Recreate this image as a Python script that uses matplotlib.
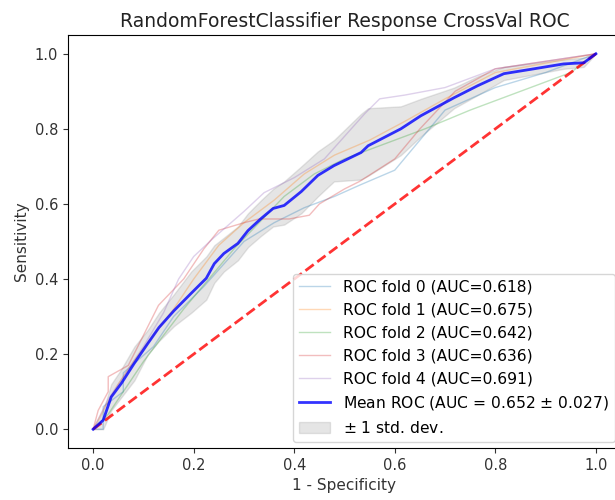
import numpy as np
import matplotlib
matplotlib.use("Agg")
import matplotlib.pyplot as plt

# fold curves (fpr, tpr)
fold0_fpr = [0, 0.02, 0.02, 0.06, 0.06, 0.12, 0.16, 0.22, 0.26, 0.30, 0.36, 0.42, 0.48, 0.53, 0.60, 0.65, 0.70, 0.80, 0.90, 1.0]
fold0_tpr = [0, 0.0, 0.06, 0.10, 0.15, 0.22, 0.30, 0.38, 0.44, 0.50, 0.55, 0.59, 0.62, 0.65, 0.69, 0.77, 0.85, 0.91, 0.95, 1.0]
fold1_fpr = [0, 0.02, 0.05, 0.08, 0.12, 0.16, 0.20, 0.25, 0.30, 0.36, 0.42, 0.48, 0.55, 0.62, 0.70, 0.80, 0.88, 1.0]
fold1_tpr = [0, 0.05, 0.12, 0.18, 0.25, 0.32, 0.40, 0.49, 0.55, 0.61, 0.68, 0.73, 0.77, 0.82, 0.88, 0.95, 0.97, 1.0]
fold2_fpr = [0, 0.03, 0.06, 0.10, 0.14, 0.18, 0.23, 0.28, 0.33, 0.38, 0.44, 0.50, 0.58, 0.66, 0.75, 0.85, 0.95, 1.0]
fold2_tpr = [0, 0.04, 0.10, 0.18, 0.25, 0.32, 0.40, 0.48, 0.55, 0.62, 0.68, 0.72, 0.76, 0.80, 0.85, 0.90, 0.95, 1.0]
fold3_fpr = [0, 0.01, 0.03, 0.03, 0.07, 0.10, 0.13, 0.18, 0.22, 0.25, 0.30, 0.33, 0.39, 0.43, 0.45, 0.50, 0.53, 0.60, 0.65, 0.72, 0.80, 0.90, 1.0]
fold3_tpr = [0, 0.05, 0.10, 0.14, 0.17, 0.25, 0.33, 0.40, 0.48, 0.53, 0.55, 0.56, 0.56, 0.57, 0.60, 0.64, 0.66, 0.72, 0.80, 0.90, 0.96, 0.98, 1.0]
fold4_fpr = [0, 0.03, 0.06, 0.10, 0.14, 0.17, 0.20, 0.24, 0.30, 0.34, 0.40, 0.46, 0.50, 0.54, 0.57, 0.62, 0.70, 0.80, 0.90, 1.0]
fold4_tpr = [0, 0.08, 0.14, 0.22, 0.31, 0.40, 0.46, 0.51, 0.58, 0.63, 0.67, 0.72, 0.78, 0.84, 0.88, 0.89, 0.91, 0.96, 0.98, 1.0]
fold_auc = [0.618, 0.675, 0.642, 0.636, 0.691]

# mean curve and +-1 std band
mean_fpr = [0, 0.02, 0.036, 0.056, 0.082, 0.109, 0.131, 0.161, 0.195, 0.225, 0.241, 0.26, 0.288, 0.308, 0.334,
            0.358, 0.38, 0.414, 0.447, 0.479, 0.533, 0.547, 0.612, 0.652, 0.718, 0.765, 0.817, 0.877, 0.936, 0.976, 1.0]
mean_tpr = [0, 0.024, 0.086, 0.122, 0.176, 0.229, 0.271, 0.316, 0.362, 0.402, 0.441, 0.468, 0.495, 0.529, 0.561,
            0.588, 0.596, 0.633, 0.676, 0.702, 0.737, 0.755, 0.800, 0.835, 0.883, 0.915, 0.947, 0.960, 0.973, 0.976, 1.0]
upper_tpr = [0, 0.05, 0.12, 0.16, 0.22, 0.265, 0.31, 0.36, 0.42, 0.46, 0.49, 0.51, 0.54, 0.575, 0.61,
             0.64, 0.66, 0.70, 0.74, 0.77, 0.84, 0.855, 0.86, 0.88, 0.91, 0.94, 0.965, 0.975, 0.985, 0.99, 1.0]
lower_tpr = [0, 0.0, 0.05, 0.085, 0.13, 0.20, 0.235, 0.275, 0.31, 0.345, 0.39, 0.42, 0.45, 0.485, 0.515,
             0.54, 0.545, 0.575, 0.62, 0.66, 0.665, 0.675, 0.73, 0.78, 0.855, 0.89, 0.93, 0.945, 0.96, 0.965, 1.0]
mean_auc = 0.652
std_auc = 0.027

fig = plt.figure(figsize=(6.15, 5.0), dpi=100)
ax = fig.add_axes([68 / 615, 52 / 500, 553 / 615, 413 / 500])

folds = [(fold0_fpr, fold0_tpr), (fold1_fpr, fold1_tpr), (fold2_fpr, fold2_tpr),
         (fold3_fpr, fold3_tpr), (fold4_fpr, fold4_tpr)]
for i, (fpr, tpr) in enumerate(folds):
    ax.plot(fpr, tpr, lw=1, alpha=0.3, label=f"ROC fold {i} (AUC={fold_auc[i]:.3f})")

ax.plot([0, 1], [0, 1], linestyle="--", lw=2, color="r", alpha=0.8)
ax.plot(mean_fpr, mean_tpr, color="b", lw=2, alpha=0.8,
        label=f"Mean ROC (AUC = {mean_auc:.3f} $\\pm$ {std_auc:.3f})")
ax.fill_between(mean_fpr, lower_tpr, upper_tpr, color="grey", alpha=0.2, label="$\\pm$ 1 std. dev.")

ax.set_xlim(-0.05, 1.05)
ax.set_ylim(-0.05, 1.05)
ax.tick_params(labelsize=10.5, colors="#333333")
ax.set_xlabel("1 - Specificity", fontsize=11, color="#333333")
ax.set_ylabel("Sensitivity", fontsize=11, color="#333333")
ax.set_title("RandomForestClassifier Response CrossVal ROC", fontsize=13.5, color="#222222")
ax.legend(loc="lower right", fontsize=11.2, borderaxespad=0.4)

plt.savefig("out.png", dpi=100)
